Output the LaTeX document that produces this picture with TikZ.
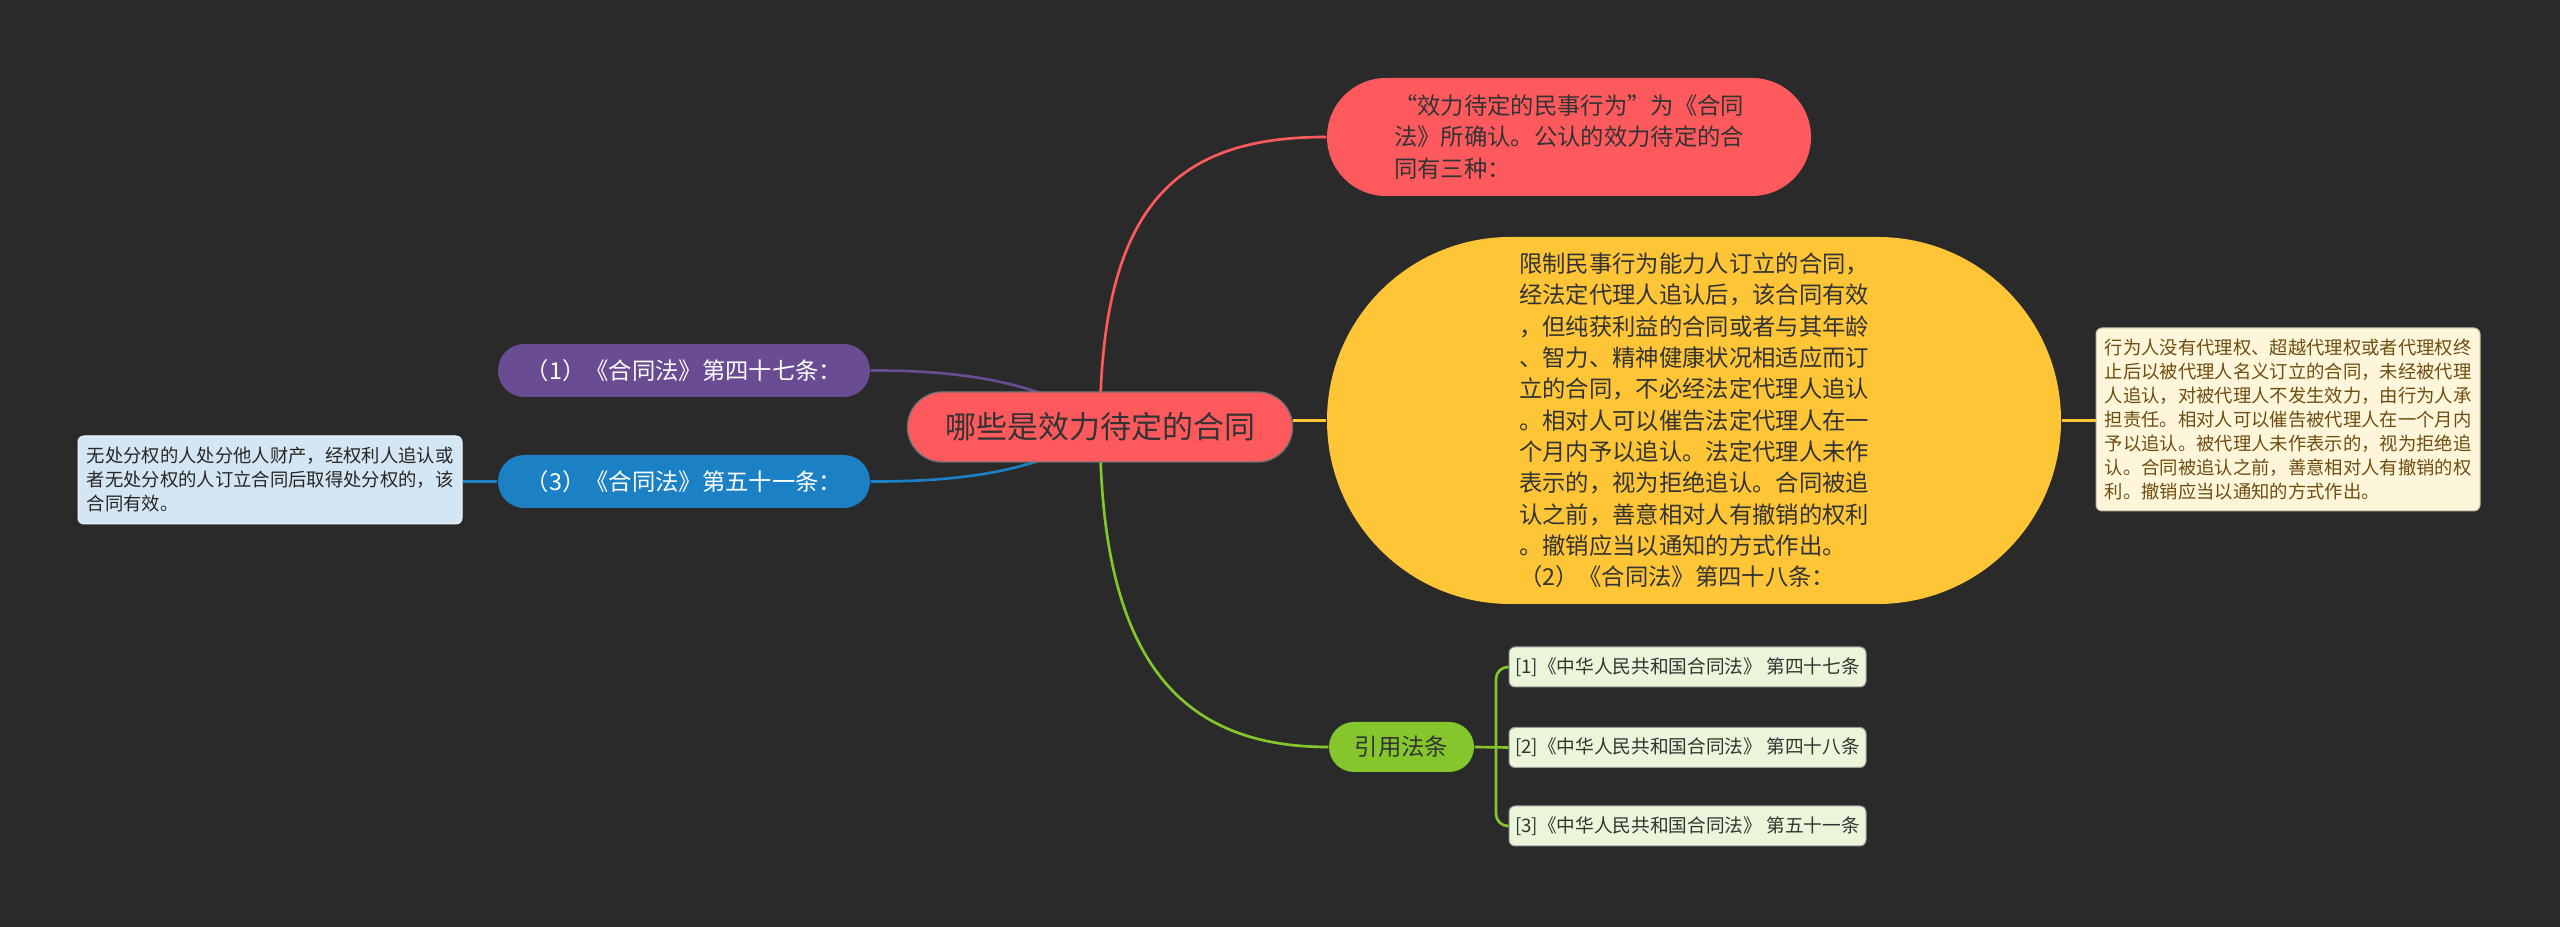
\documentclass[tikz,border=0pt]{standalone}
\usepackage{fontspec}
\setmainfont{Noto Sans CJK SC}
\usetikzlibrary{backgrounds}

\definecolor{bgdark}{HTML}{2A2A2A}
\definecolor{topred}{HTML}{FE5A5E}
\definecolor{gold}{HTML}{FEC637}
\definecolor{plum}{HTML}{6A4C93}
\definecolor{sea}{HTML}{1B80C4}
\definecolor{lime}{HTML}{85C62D}
\definecolor{refbg}{HTML}{EBF5D9}
\definecolor{notecream}{HTML}{FEF6DA}
\definecolor{notebrown}{HTML}{6E4D10}
\definecolor{noteblue}{HTML}{D4E6F4}
\definecolor{inkdark}{HTML}{333333}

\tikzset{
  topic/.style={fill=topred, draw=black!55, line width=0.4pt, text=inkdark, inner sep=0pt,
    minimum width=115.5pt, minimum height=21pt, rounded corners=10.5pt,
    font=\fontsize{9.3pt}{11pt}\selectfont},
  branch/.style={inner sep=0pt, align=left, text=inkdark,
    font=\fontsize{7pt}{9.4pt}\selectfont},
  article/.style={branch, text=white, minimum width=111.6pt, minimum height=15.9pt,
    rounded corners=7.9pt},
  note/.style={inner sep=0pt, align=left, line width=0.3pt, rounded corners=1.8pt,
    minimum width=115.2pt, font=\fontsize{5.5pt}{7.2pt}\selectfont},
  lawref/.style={fill=refbg, draw=black!40, line width=0.3pt, rounded corners=1.8pt,
    inner sep=0pt, minimum width=107.1pt, minimum height=12pt, text=inkdark,
    font=\fontsize{5.6pt}{7pt}\selectfont},
  link/.style={line width=0.8pt}
}

\begin{document}
\begin{tikzpicture}[x=0.3pt, y=-0.3pt]
\useasboundingbox (0,0) rectangle (2560,927);

% centre and right side
\node[topic] (root) at (1100,427) {哪些是效力待定的合同};
\node[branch, fill=topred, minimum width=145.2pt, minimum height=35.4pt,
  rounded corners=17.7pt] (confirm) at (1569,137)
  {“效力待定的民事行为”为《合同\\
   法》所确认。公认的效力待定的合\\
   同有三种：};
\node[branch, fill=gold, minimum width=220.2pt, minimum height=110.1pt,
  rounded corners=55pt] (minor) at (1694,420.5)
  {限制民事行为能力人订立的合同，\\
   经法定代理人追认后，该合同有效\\
   ，但纯获利益的合同或者与其年龄\\
   、智力、精神健康状况相适应而订\\
   立的合同，不必经法定代理人追认\\
   。相对人可以催告法定代理人在一\\
   个月内予以追认。法定代理人未作\\
   表示的，视为拒绝追认。合同被追\\
   认之前，善意相对人有撤销的权利\\
   。撤销应当以通知的方式作出。\\
   （2）《合同法》第四十八条：};
\node[note, fill=notecream, draw=notebrown!40, text=notebrown, minimum height=54.9pt]
  (agent) at (2288,419.5)
  {行为人没有代理权、超越代理权或者代理权终\\
   止后以被代理人名义订立的合同，未经被代理\\
   人追认，对被代理人不发生效力，由行为人承\\
   担责任。相对人可以催告被代理人在一个月内\\
   予以追认。被代理人未作表示的，视为拒绝追\\
   认。合同被追认之前，善意相对人有撤销的权\\
   利。撤销应当以通知的方式作出。};

% left side
\node[article, fill=plum] (art47) at (684,370.5) {（1）《合同法》第四十七条：};
\node[article, fill=sea] (art51) at (684,481.5) {（3）《合同法》第五十一条：};
\node[note, fill=noteblue, draw=white!70!noteblue, text=black!85, minimum height=26.4pt]
  (owner) at (270,480)
  {无处分权的人处分他人财产，经权利人追认或\\
   者无处分权的人订立合同后取得处分权的，该\\
   合同有效。};

% cited articles
\node[branch, fill=lime, minimum width=43.5pt, minimum height=15pt,
  rounded corners=7.5pt, align=center] (cite) at (1401.5,747) {引用法条};
\node[lawref] (ref1) at (1687.5,667) {[1]《中华人民共和国合同法》 第四十七条};
\node[lawref] (ref2) at (1687.5,747.5) {[2]《中华人民共和国合同法》 第四十八条};
\node[lawref] (ref3) at (1687.5,826) {[3]《中华人民共和国合同法》 第五十一条};
\coordinate (fork) at (1496,747);

\begin{pgfonlayer}{background}
\fill[bgdark] (0,0) rectangle (2560,927);
\draw[link, topred] (root.center) .. controls (1100,200) and (1180,137) .. (confirm.west);
\draw[link, lime] (root.center) .. controls (1100,660) and (1180,747) .. (cite.west);
\draw[link, plum] (art47.east) .. controls (990,370) and (1060,392) .. (root.center);
\draw[link, sea] (art51.east) .. controls (990,482) and (1060,462) .. (root.center);
\draw[link, gold] (minor.west) -- (minor.west -| root.east);
\draw[link, gold] (minor.east) -- (minor.east -| agent.west);
\draw[link, sea] (art51.west) -- (art51.west -| owner.east);
\draw[link, lime] (cite.east) -- (ref2.west);
\draw[link, lime, rounded corners=3.6pt] (fork) |- (ref1.west);
\draw[link, lime, rounded corners=3.6pt] (fork) |- (ref3.west);
\end{pgfonlayer}
\end{tikzpicture}
\end{document}
